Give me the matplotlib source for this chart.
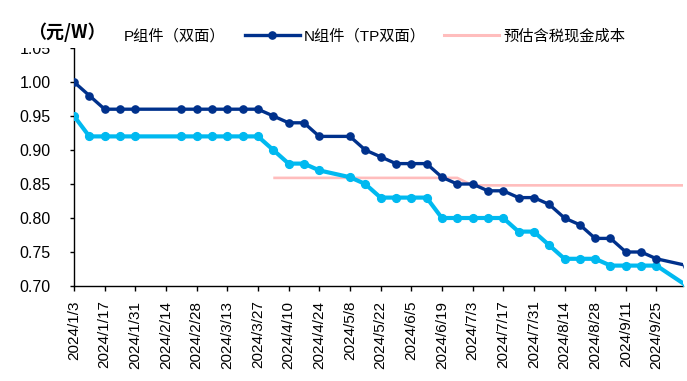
import matplotlib
matplotlib.use("Agg")
import matplotlib.pyplot as plt
from matplotlib.lines import Line2D
from matplotlib.patches import Rectangle
import numpy as np
import pandas as pd

plt.rcParams['font.family'] = ['Liberation Sans', 'Noto Sans CJK SC', 'DejaVu Sans']

# Weekly price dates (Wednesdays), 2024/1/3 .. 2024/10/9
weeks = pd.date_range("2024-01-03", "2024-10-09", freq="7D")
week_labels = [f"{d.year}/{d.month}/{d.day}" for d in weeks]

# Module prices (yuan/W); None = no quote that week (holidays)
p_bifacial = [0.95, 0.92, 0.92, 0.92, 0.92, None, None, 0.92, 0.92, 0.92,
              0.92, 0.92, 0.92, 0.90, 0.88, 0.88, 0.87, None, 0.86, 0.85,
              0.83, 0.83, 0.83, 0.83, 0.80, 0.80, 0.80, 0.80, 0.80, 0.78,
              0.78, 0.76, 0.74, 0.74, 0.74, 0.73, 0.73, 0.73, 0.73, None,
              0.70]
n_topcon = [1.00, 0.98, 0.96, 0.96, 0.96, None, None, 0.96, 0.96, 0.96,
            0.96, 0.96, 0.96, 0.95, 0.94, 0.94, 0.92, None, 0.92, 0.90,
            0.89, 0.88, 0.88, 0.88, 0.86, 0.85, 0.85, 0.84, 0.84, 0.83,
            0.83, 0.82, 0.80, 0.79, 0.77, 0.77, 0.75, 0.75, 0.74, None,
            0.73]
# Estimated tax-inclusive cash cost, from 2024/4/3 onwards
cost_start = 13
cash_cost = [0.859] * 13 + [0.848] * 15

y_ticks = [0.70, 0.75, 0.80, 0.85, 0.90, 0.95, 1.00, 1.05]

NAVY = "#00318C"
CYAN = "#00B9F0"
PINK = "#FFBDBD"

W, H = 687, 381
fig = plt.figure(figsize=(W / 100, H / 100), dpi=100)
ax = fig.add_axes([74 / W, 1 - 286 / H, (683 - 74) / W, (286 - 48) / H])


def valid(series):
    idx = [i for i, v in enumerate(series) if v is not None]
    return np.array(idx), np.array([series[i] for i in idx])


xc = np.arange(cost_start, cost_start + len(cash_cost))
ax.plot(xc, cash_cost, color=PINK, lw=1.9, zorder=2, solid_capstyle='butt')

xp, yp = valid(p_bifacial)
ax.plot(xp, yp, color=CYAN, lw=3.0, marker='o', ms=5.6, zorder=3)

xn, yn = valid(n_topcon)
ax.plot(xn, yn, color=NAVY, lw=2.4, marker='o', ms=5.2, zorder=4)

ax.set_xlim(0, 39.73)
ax.set_ylim(0.70, 1.05)
ax.set_yticks(y_ticks)
ax.set_yticklabels([f"{v:.2f}" for v in y_ticks])
tick_pos = list(range(0, 39, 2))
ax.set_xticks(tick_pos)
ax.set_xticklabels([week_labels[i] for i in tick_pos], rotation=90)

for s in ['top', 'right']:
    ax.spines[s].set_visible(False)
for s in ['left', 'bottom']:
    ax.spines[s].set_linewidth(1.0)
    ax.spines[s].set_color('black')
ax.tick_params(axis='y', direction='out', length=3, width=1, pad=14,
               labelsize=11.5)
ax.tick_params(axis='x', direction='out', length=3.5, width=1, pad=7,
               labelsize=11)
ax.margins(0)

# unit label above the value axis
fig.patches.append(Rectangle((0, 1 - 47.6 / H), 100 / W, 47.6 / H,
                             transform=fig.transFigure, facecolor='white',
                             edgecolor='none', zorder=5))
fig.text(28 / W, 1 - 32 / H, "（元/W）", fontsize=13, fontweight='bold',
         family=['Noto Sans CJK SC'], ha='left', va='center', zorder=6)

handles = [
    Line2D([], [], color='none'),
    Line2D([], [], color=NAVY, lw=2.4, marker='o', ms=5.2),
    Line2D([], [], color=PINK, lw=2.2),
]
labels = ["P组件（双面）", "N组件（TP双面）", "预估含税现金成本"]
leg = fig.legend(handles, labels, loc='center left',
                 bbox_to_anchor=(65 / W, 1 - 36 / H), ncol=3, frameon=False,
                 fontsize=11, handlelength=3.6, handletextpad=0.25,
                 columnspacing=1.25, borderpad=0, borderaxespad=0)
leg.set_zorder(7)

fig.savefig("out.png", dpi=100)
